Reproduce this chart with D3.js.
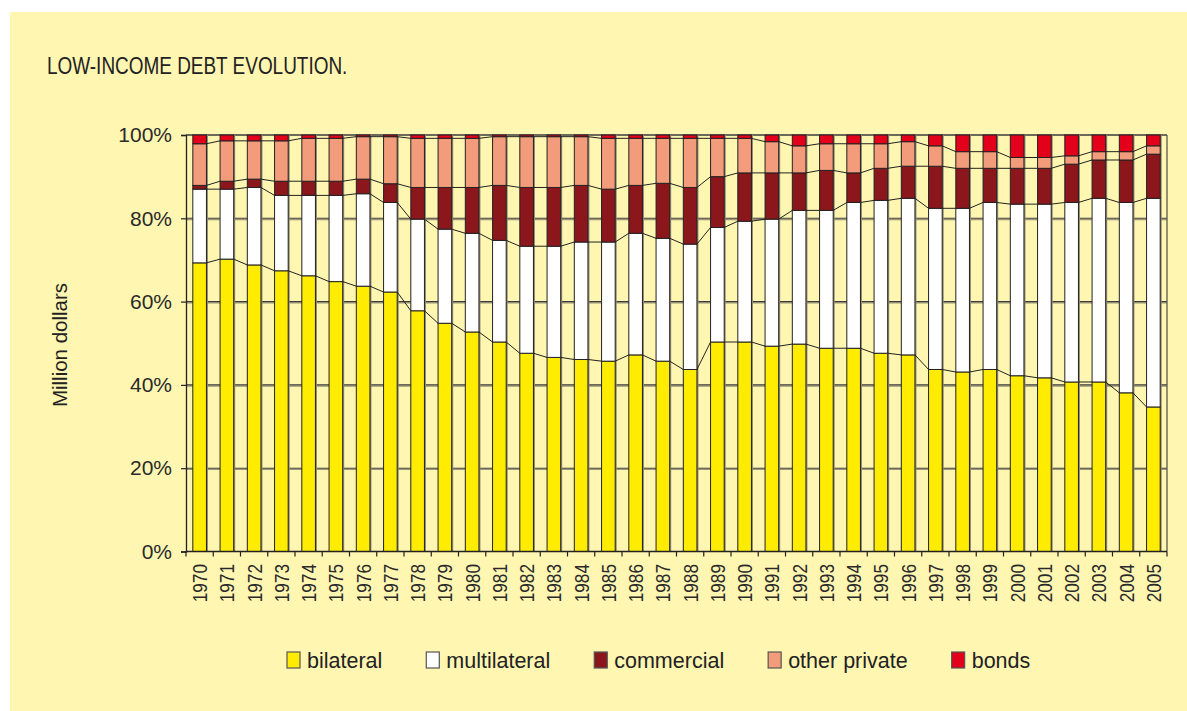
<!DOCTYPE html>
<html>
<head>
<meta charset="utf-8">
<script src="https://cdn.jsdelivr.net/npm/d3@7"></script>
<style>
  html, body { margin: 0; padding: 0; background: #ffffff; }
  svg { display: block; }
</style>
</head>
<body>
<svg id="chart" width="1187" height="711"></svg>
<script>
// ---------- DATA (percent shares of total low-income debt) ----------
const years = ["1970","1971","1972","1973","1974","1975","1976","1977","1978","1979",
  "1980","1981","1982","1983","1984","1985","1986","1987","1988","1989",
  "1990","1991","1992","1993","1994","1995","1996","1997","1998","1999",
  "2000","2001","2002","2003","2004","2005"];

const bilateral = [69.3,70.2,68.8,67.4,66.2,64.8,63.7,62.3,57.8,54.8,
  52.7,50.3,47.6,46.6,46.1,45.7,47.2,45.7,43.7,50.3,
  50.3,49.3,49.8,48.8,48.8,47.6,47.2,43.7,43.1,43.7,
  42.2,41.7,40.7,40.7,38.1,34.7];

const multilateral = [17.7,16.8,18.6,18.1,19.3,20.7,22.2,21.5,22.0,22.6,
  23.7,24.4,25.7,26.7,28.2,28.6,29.2,29.5,30.1,27.5,
  29.0,30.5,32.1,33.1,35.0,36.7,37.6,38.7,39.3,40.1,
  41.2,41.7,43.1,44.1,45.7,50.1];

const commercial = [0.9,1.9,2.0,3.4,3.4,3.4,3.5,4.5,7.6,10.0,
  11.0,13.2,14.1,14.1,13.6,12.7,11.5,13.2,13.6,12.2,
  11.6,11.1,9.0,9.6,7.1,7.7,7.7,10.1,9.6,8.2,
  8.6,8.6,9.2,9.2,10.2,10.6];

const otherPrivate = [10.0,9.7,9.2,9.7,10.3,10.3,10.2,11.3,11.8,11.8,
  11.8,11.7,12.2,12.2,11.7,12.2,11.3,10.8,11.8,9.2,
  8.3,7.5,6.5,6.4,7.0,5.9,5.9,4.9,4.0,4.0,
  2.6,2.6,2.0,2.0,2.0,2.0];

const bonds = [2.1,1.4,1.4,1.4,0.8,0.8,0.4,0.4,0.8,0.8,
  0.8,0.4,0.4,0.4,0.4,0.8,0.8,0.8,0.8,0.8,
  0.8,1.6,2.6,2.1,2.1,2.1,1.6,2.6,4.0,4.0,
  5.4,5.4,5.0,4.0,4.0,2.6];

const seriesNames = ["bilateral","multilateral","commercial","other private","bonds"];
const yTicks = [0,20,40,60,80,100];
const title = "LOW-INCOME DEBT EVOLUTION.";
const yLabel = "Million dollars";

// ---------- STYLE ----------
const colors = ["#FFEC00","#FFFFFF","#8B171C","#F39C7B","#E2001A"];
const panelColor = "#FFF6B2";
const ink = "#222222";
const sans = "'Liberation Sans', Arial, sans-serif";

const svg = d3.select("#chart");
svg.append("rect").attr("x",10).attr("y",12).attr("width",1177).attr("height",699).attr("fill",panelColor);

const plot = {left:186, right:1167, top:135, bottom:551.5};

const x = d3.scaleBand().domain(years).range([plot.left, plot.right]).paddingInner(0.5).paddingOuter(0.25);
const y = d3.scaleLinear().domain([0,100]).range([plot.bottom, plot.top]);

const table = years.map((yr,i)=>({year:yr, bilateral:bilateral[i], multilateral:multilateral[i],
  commercial:commercial[i], "other private":otherPrivate[i], bonds:bonds[i]}));
table.forEach(d=>{ const s = seriesNames.reduce((a,k)=>a+d[k],0); seriesNames.forEach(k=>d[k]=d[k]*100/s); });
const stacked = d3.stack().keys(seriesNames)(table);

// gridlines with slight shadow
const grid = svg.append("g");
[20,40,60,80].forEach(t=>{
  grid.append("line").attr("x1",plot.left).attr("x2",plot.right).attr("y1",y(t)+1.3).attr("y2",y(t)+1.3)
    .attr("stroke","#9a9478").attr("stroke-width",1.2);
  grid.append("line").attr("x1",plot.left).attr("x2",plot.right).attr("y1",y(t)).attr("y2",y(t))
    .attr("stroke","#3a3a3a").attr("stroke-width",1.1);
});
svg.append("line").attr("x1",plot.left).attr("x2",plot.right).attr("y1",plot.top).attr("y2",plot.top)
  .attr("stroke","#3a3a3a").attr("stroke-width",1.3);
svg.append("line").attr("x1",plot.right).attr("x2",plot.right).attr("y1",plot.top).attr("y2",plot.bottom)
  .attr("stroke","#5a5a50").attr("stroke-width",1.3);

// bar shadows
svg.append("g").selectAll("rect").data(table).join("rect")
  .attr("x",d=>x(d.year)+1.5).attr("y",y(100)).attr("width",x.bandwidth()).attr("height",y(0)-y(100))
  .attr("fill","#8f8a70");

// bars
const bars = svg.append("g");
stacked.forEach((s,si)=>{
  bars.append("g").selectAll("rect").data(s).join("rect")
    .attr("x",d=>x(d.data.year)).attr("y",d=>y(d[1]))
    .attr("width",x.bandwidth()).attr("height",d=>y(d[0])-y(d[1]))
    .attr("fill",colors[si]).attr("stroke",ink).attr("stroke-width",1);
});

// series lines between bars
const lines = svg.append("g");
stacked.slice(0,4).forEach(s=>{
  for (let i=0;i<s.length-1;i++){
    lines.append("line")
      .attr("x1",x(years[i])+x.bandwidth()).attr("y1",y(s[i][1]))
      .attr("x2",x(years[i+1])).attr("y2",y(s[i+1][1]))
      .attr("stroke",ink).attr("stroke-width",1);
  }
});

// y axis
const yAxis = svg.append("g").attr("transform",`translate(${plot.left},0)`)
  .call(d3.axisLeft(y).tickValues(yTicks).tickFormat(d=>d+"%").tickSize(5).tickPadding(9));
yAxis.select(".domain").attr("stroke",ink).attr("stroke-width",1.3);
yAxis.selectAll(".tick line").attr("stroke",ink).attr("stroke-width",1.2);
yAxis.selectAll("text").attr("font-family",sans).attr("font-size",21).attr("fill","#2a2a2a");

// x axis
svg.append("line").attr("x1",plot.left).attr("x2",plot.right).attr("y1",plot.bottom).attr("y2",plot.bottom)
  .attr("stroke",ink).attr("stroke-width",1.3);
const step = x.step();
const boundaries = d3.range(years.length+1).map(i=>plot.left + i*step);
svg.append("g").selectAll("line").data(boundaries).join("line")
  .attr("x1",d=>d).attr("x2",d=>d).attr("y1",plot.bottom).attr("y2",plot.bottom+5)
  .attr("stroke",ink).attr("stroke-width",1.2);
svg.append("g").selectAll("text").data(years).join("text")
  .attr("transform",d=>`translate(${x(d)+x.bandwidth()/2+7.5},564) rotate(-90) scale(0.82,1)`)
  .attr("text-anchor","end")
  .attr("font-family",sans).attr("font-size",21).attr("fill","#2a2a2a")
  .text(d=>d);

// title (condensed)
svg.append("text").attr("transform","translate(47,74) scale(0.79,1)")
  .attr("font-family",sans).attr("font-size",24).attr("fill","#222").text(title);

// y label
svg.append("text").attr("transform","translate(67,345) rotate(-90)").attr("text-anchor","middle")
  .attr("font-family",sans).attr("font-size",20.5).attr("fill","#222")
  .text(yLabel);

// legend
const legend = svg.append("g");
let lx = 287;
seriesNames.forEach((n,i)=>{
  legend.append("rect").attr("x",lx).attr("y",652).attr("width",13).attr("height",16)
    .attr("fill",colors[i]).attr("stroke","#555").attr("stroke-width",1.2);
  const t = legend.append("text").attr("x",lx+20).attr("y",668)
    .attr("font-family",sans).attr("font-size",21.5).attr("fill","#222").text(n);
  lx += 20 + t.node().getComputedTextLength() + 44;
});
</script>
</body>
</html>
